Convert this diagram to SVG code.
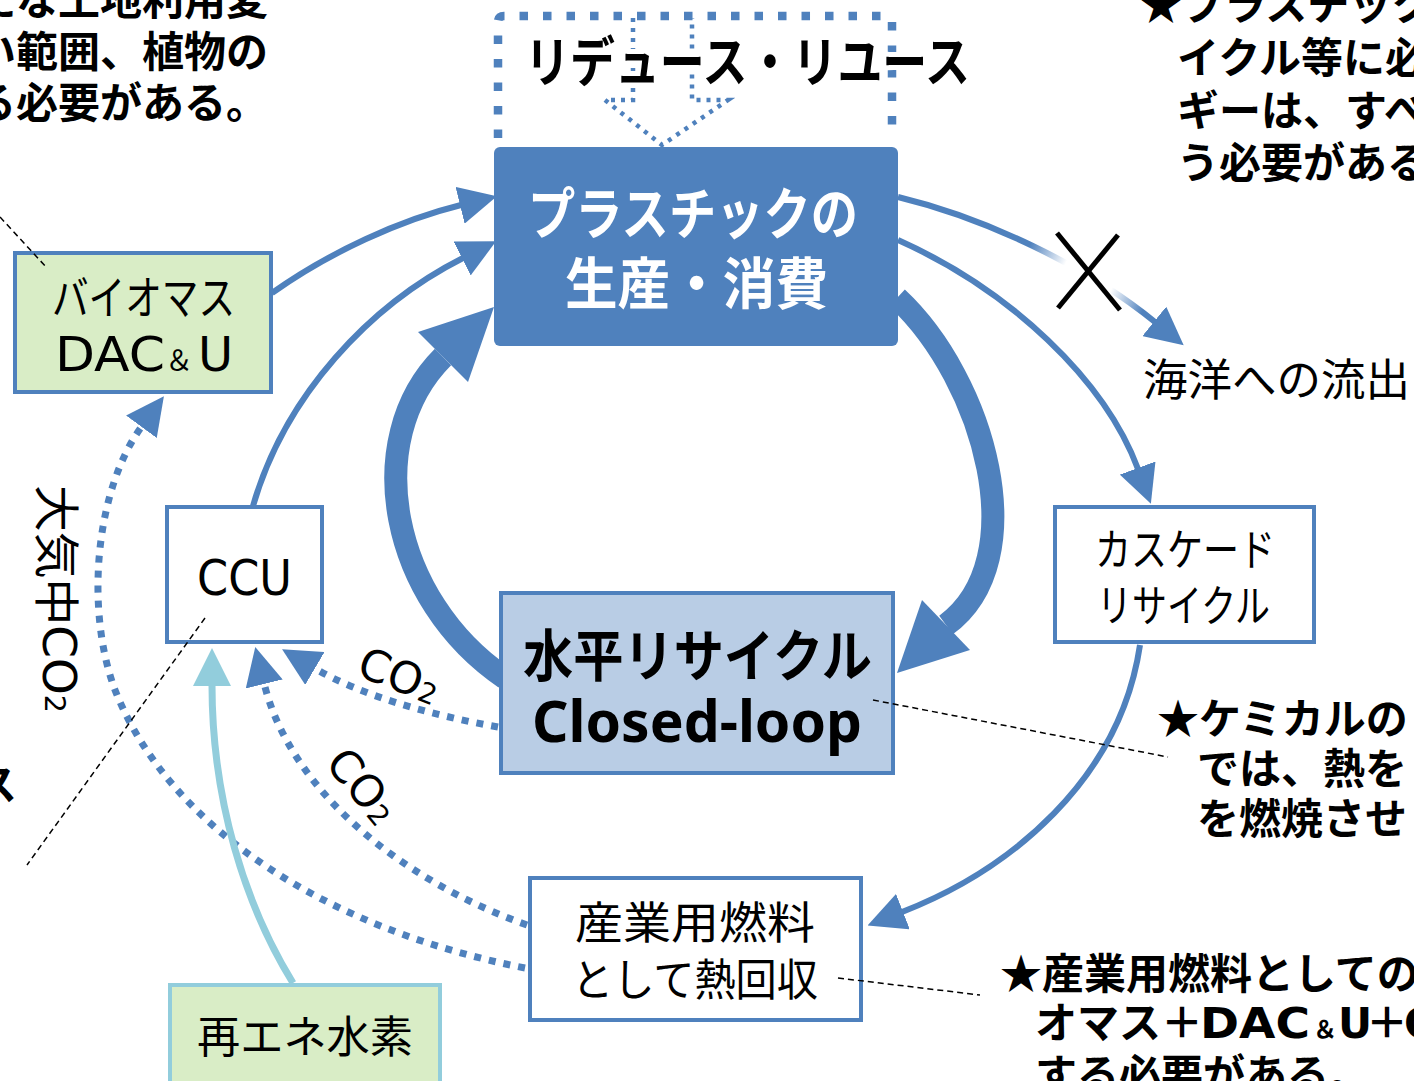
<svg xmlns="http://www.w3.org/2000/svg" width="1414" height="1081" viewBox="0 0 1414 1081">
<defs>
<style>
.jb{font-family:"Noto Sans CJK JP","Noto Sans CJK SC",sans-serif;font-weight:700;fill:#000}
.jr{font-family:"Noto Sans CJK JP","Noto Sans CJK SC",sans-serif;font-weight:400;fill:#000}
.lat{font-family:"DejaVu Sans",sans-serif;font-weight:400;fill:#000}
.latb{font-family:"Noto Sans",sans-serif;font-weight:700;fill:#000}
.box{stroke:#4F81BD;stroke-width:4}
.c{fill:none;stroke:#4F81BD;stroke-width:6}
.dot{fill:none;stroke:#4F81BD;stroke-width:7;stroke-dasharray:7 8}
.thick{fill:none;stroke:#4F81BD;stroke-width:23}
.dash{fill:none;stroke:#000;stroke-width:1.5;stroke-dasharray:6 4}
</style>
<marker id="ah" markerUnits="userSpaceOnUse" viewBox="0 0 38 38" markerWidth="38" markerHeight="38" refX="1" refY="19" orient="auto"><path d="M0,0 L38,19 L0,38 z" fill="#4F81BD"/></marker>
<marker id="ahl" markerUnits="userSpaceOnUse" viewBox="0 0 38 38" markerWidth="38" markerHeight="38" refX="1" refY="19" orient="auto"><path d="M0,0 L38,19 L0,38 z" fill="#92CDDC"/></marker>
<linearGradient id="fade" gradientUnits="userSpaceOnUse" x1="898" y1="197" x2="1160" y2="322">
<stop offset="0" stop-color="#4F81BD" stop-opacity="1"/>
<stop offset="0.48" stop-color="#4F81BD" stop-opacity="1"/>
<stop offset="0.62" stop-color="#4F81BD" stop-opacity="0"/>
<stop offset="0.8" stop-color="#4F81BD" stop-opacity="0"/>
<stop offset="0.93" stop-color="#4F81BD" stop-opacity="1"/>
<stop offset="1" stop-color="#4F81BD" stop-opacity="1"/>
</linearGradient>
</defs>
<rect width="1414" height="1081" fill="#fff"/>

<g id="connectors">
<!-- thick loop arrows -->
<path class="thick" d="M505,678 C390,600 360,440 443,357"/>
<polygon points="494,307 418,332 468,382" fill="#4F81BD"/>
<path class="thick" d="M897,298 C985,380 1035,560 946,625"/>
<polygon points="897,673 922,600 970,650" fill="#4F81BD"/>
<!-- solid connectors -->
<path class="c" d="M272,293 C330,252 400,220 461,205" marker-end="url(#ah)"/>
<path class="c" d="M253,506 C285,395 370,305 463,258" marker-end="url(#ah)"/>
<path class="c" d="M898,240 C1010,290 1105,380 1138,469" marker-end="url(#ah)"/>
<path class="c" d="M1140,645 C1120,780 1010,870 902,912" marker-end="url(#ah)"/>
<path fill="none" stroke="url(#fade)" stroke-width="6" d="M898,197 C985,218 1085,265 1155,322" marker-end="url(#ah)"/>
<g stroke="#000" stroke-width="5">
<line x1="1057" y1="233" x2="1120" y2="310"/>
<line x1="1118" y1="235" x2="1058" y2="308"/>
</g>
<!-- dotted CO2 connectors -->
<path class="dot" d="M498,727 C430,715 360,695 314,668" marker-end="url(#ah)"/>
<path class="dot" d="M527,925 C400,880 290,790 264,683" marker-end="url(#ah)"/>
<path class="dot" d="M525,968 C330,930 170,830 115,690 C85,610 95,490 142,426" marker-end="url(#ah)"/>
<!-- hydrogen -->
<path fill="none" stroke="#92CDDC" stroke-width="7" d="M293,983 C245,905 212,800 212,685" marker-end="url(#ahl)"/>
<!-- connector labels -->
<text class="lat" font-size="44" transform="translate(355,675) rotate(21)">CO<tspan font-size="28" dy="1">2</tspan></text>
<text class="lat" font-size="44" transform="translate(324,764) rotate(50)">CO<tspan font-size="28" dy="1">2</tspan></text>
<text class="jr" font-size="46" transform="translate(40,485) rotate(90)" textLength="228" lengthAdjust="spacingAndGlyphs">大気中<tspan class="lat" dy="-3">CO</tspan><tspan class="lat" font-size="28" dy="-2">2</tspan></text>
</g>

<g id="reduce">
<path d="M498,138 V22 Q498,16 504,16 H886 Q892,16 892,22 V138" fill="none" stroke="#4F81BD" stroke-width="8.5" stroke-dasharray="8.5 15"/>
<path d="M633,18 V100 H605 L662,145 L728,100 H692 V18" fill="none" stroke="#4F81BD" stroke-width="4.5" stroke-dasharray="4 6"/>
<text class="jb" x="525" y="82" font-size="54" textLength="445" lengthAdjust="spacingAndGlyphs" stroke="#fff" stroke-width="10" stroke-linejoin="round" paint-order="stroke">リデュース・リユース</text>
</g>

<g id="plastic">
<rect x="494" y="147" width="404" height="199" rx="6" fill="#4F81BD"/>
<text class="jb" x="528" y="234" font-size="56" textLength="330" lengthAdjust="spacingAndGlyphs" style="fill:#fff">プラスチックの</text>
<text class="jb" x="565" y="304" font-size="56" textLength="263" lengthAdjust="spacingAndGlyphs" style="fill:#fff">生産・消費</text>
</g>

<g id="biomass">
<rect class="box" x="15" y="253" width="256" height="139" fill="#D9EDC6"/>
<text class="jr" x="52" y="314" font-size="46" textLength="183" lengthAdjust="spacingAndGlyphs">バイオマス</text>
<text class="lat" x="55" y="371" font-size="48" textLength="110" lengthAdjust="spacingAndGlyphs">DAC</text>
<text class="jr" x="165" y="371" font-size="28">＆</text>
<text class="lat" x="198" y="371" font-size="48">U</text>
</g>

<g id="ccu">
<rect class="box" x="167" y="507" width="155" height="135" fill="#fff"/>
<text class="lat" x="197" y="595" font-size="50" textLength="95" lengthAdjust="spacingAndGlyphs">CCU</text>
</g>

<g id="cascade">
<rect class="box" x="1055" y="507" width="259" height="135" fill="#fff"/>
<text class="jr" x="1095" y="566" font-size="44" textLength="180" lengthAdjust="spacingAndGlyphs">カスケード</text>
<text class="jr" x="1097" y="622" font-size="44" textLength="173" lengthAdjust="spacingAndGlyphs">リサイクル</text>
</g>

<g id="closedloop">
<rect class="box" x="501" y="593" width="392" height="180" fill="#B9CDE5"/>
<text class="jb" x="523" y="676" font-size="56" textLength="349" lengthAdjust="spacingAndGlyphs">水平リサイクル</text>
<text class="latb" x="532" y="742" font-size="57" textLength="330" lengthAdjust="spacingAndGlyphs">Closed-loop</text>
</g>

<g id="fuel">
<rect class="box" x="530" y="878" width="331" height="142" fill="#fff"/>
<text class="jr" x="575" y="939" font-size="44" textLength="240" lengthAdjust="spacingAndGlyphs">産業用燃料</text>
<text class="jr" x="572" y="996" font-size="44" textLength="246" lengthAdjust="spacingAndGlyphs">として熱回収</text>
</g>

<g id="hydrogen">
<rect x="170" y="985" width="270" height="120" fill="#D9EDC6" stroke="#92CDDC" stroke-width="4"/>
<text class="jr" x="197" y="1053" font-size="44" textLength="216" lengthAdjust="spacingAndGlyphs">再エネ水素</text>
</g>

<g id="ocean">
<text class="jr" x="1143" y="396" font-size="44" textLength="267" lengthAdjust="spacingAndGlyphs">海洋への流出</text>
</g>

<g id="callouts">
<line class="dash" x1="0" y1="217" x2="47" y2="268"/>
<line class="dash" x1="205" y1="618" x2="27" y2="865"/>
<line class="dash" x1="873" y1="700" x2="1168" y2="757"/>
<line class="dash" x1="838" y1="978" x2="980" y2="995"/>
</g>

<g id="notes" class="jb" font-size="42">
<text x="268" y="15" text-anchor="end">たな土地利用変</text>
<text x="268" y="67" text-anchor="end">い範囲、植物の</text>
<text x="268" y="118" text-anchor="end">る必要がある。</text>
<text x="1140" y="20">★プラスチック</text>
<text x="1177" y="73">イクル等に必</text>
<text x="1177" y="126">ギーは、すべ</text>
<text x="1177" y="178">う必要がある</text>
<text x="1157" y="734">★ケミカルの</text>
<text x="1197" y="784">では、熱を</text>
<text x="1197" y="834">を燃焼させ</text>
<text x="1000" y="989">★産業用燃料としての</text>
<text x="1035" y="1038">オマス＋</text>
<text x="1200" y="1038" textLength="110" lengthAdjust="spacingAndGlyphs" style="font-family:'DejaVu Sans',sans-serif">DAC</text>
<text x="1313" y="1038" font-size="24">＆</text>
<text x="1338" y="1038" style="font-family:'DejaVu Sans',sans-serif">U</text>
<text x="1366" y="1038">＋</text>
<text x="1404" y="1038" style="font-family:'DejaVu Sans',sans-serif">C</text>
<text x="1035" y="1090">する必要がある。</text>
<text x="-25" y="800">ス</text>
</g>
</svg>
